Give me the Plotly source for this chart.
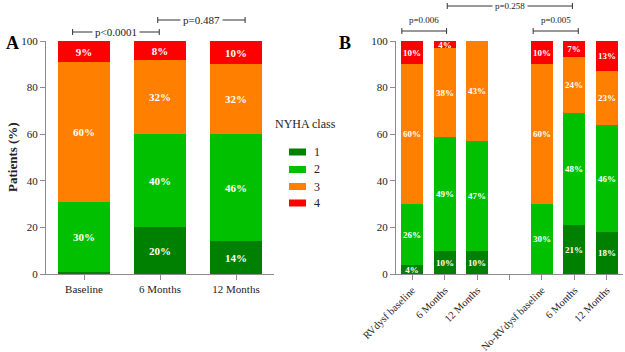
import plotly.graph_objects as go

# ---------------- data ----------------
nyha_classes = ["1", "2", "3", "4"]
class_colors = ["#008000", "#00c000", "#ff8000", "#ff0000"]

a_categories = ["Baseline", "6 Months", "12 Months"]
a_class1 = [1, 20, 14]
a_class2 = [30, 40, 46]
a_class3 = [60, 32, 30]
a_class4 = [9, 8, 10]
a_lab1 = ["", "20%", "14%"]
a_lab2 = ["30%", "40%", "46%"]
a_lab3 = ["60%", "32%", "32%"]
a_lab4 = ["9%", "8%", "10%"]

b_categories = ["RVdysf baseline", "6 Months", "12 Months", "",
                "No-RVdysf baseline", "6 Months", "12 Months"]
b_class1 = [4, 10, 10, 0, 0, 21, 18]
b_class2 = [26, 49, 47, 0, 30, 48, 46]
b_class3 = [60, 38, 43, 0, 60, 24, 23]
b_class4 = [10, 3, 0, 0, 10, 7, 13]
b_lab1 = ["4%", "10%", "10%", "", "", "21%", "18%"]
b_lab2 = ["26%", "49%", "47%", "", "30%", "48%", "46%"]
b_lab3 = ["60%", "38%", "43%", "", "60%", "24%", "23%"]
b_lab4 = ["10%", "4%", "", "", "10%", "7%", "13%"]

y_ticks = [0, 20, 40, 60, 80, 100]

# p-value brackets: (from position, to position, label)
a_brackets = [(-0.15, 0.99, "p<0.0001"), (0.97, 2.12, "p=0.487")]
b_brackets = [(-0.32, 1.06, "p=0.006"), (1.08, 4.94, "p=0.258"), (3.73, 5.12, "p=0.005")]

# ---------------- layout helpers ----------------
W, H = 625, 352
SERIF = "Liberation Serif"
AXIS_COL = "#8c8c8c"


def px_x(p):
    return p / W


def px_y(p):
    return 1 - p / H


Y0, Y1 = px_y(274), px_y(41)

fig = go.Figure()

a_vals = [a_class1, a_class2, a_class3, a_class4]
a_labs = [a_lab1, a_lab2, a_lab3, a_lab4]
b_vals = [b_class1, b_class2, b_class3, b_class4]
b_labs = [b_lab1, b_lab2, b_lab3, b_lab4]

a_x = list(range(len(a_categories)))
b_x = list(range(len(b_categories)))

for i, name in enumerate(nyha_classes):
    fig.add_trace(go.Bar(
        x=a_x, y=a_vals[i], text=a_labs[i], name=name,
        marker=dict(color=class_colors[i], line=dict(width=0)),
        width=0.68, textposition="inside", insidetextanchor="middle",
        textangle=0, constraintext="none",
        textfont=dict(family=SERIF, size=11, color="white", weight="bold"),
        showlegend=False, xaxis="x", yaxis="y"))
    fig.add_trace(go.Bar(
        x=b_x, y=b_vals[i], text=b_labs[i], name=name,
        marker=dict(color=class_colors[i], line=dict(width=0)),
        width=0.68, textposition="inside", insidetextanchor="middle",
        textangle=0, constraintext="none",
        textfont=dict(family=SERIF, size=9, color="white", weight="bold"),
        showlegend=False, xaxis="x2", yaxis="y2"))

axis_common = dict(showline=True, linecolor=AXIS_COL, linewidth=1,
                   ticks="outside", ticklen=5, tickcolor=AXIS_COL,
                   showgrid=False, zeroline=False, automargin=False)
tick_font = dict(family=SERIF, size=11, color="#222")

fig.update_layout(
    width=W, height=H,
    margin=dict(l=0, r=0, t=0, b=0, autoexpand=False),
    paper_bgcolor="white", plot_bgcolor="white",
    barmode="stack", bargap=0,
    xaxis=dict(domain=[px_x(46), px_x(274)], range=[-0.5, 2.5],
               tickvals=a_x, ticktext=a_categories, anchor="y",
               tickfont=tick_font, **axis_common),
    yaxis=dict(domain=[Y0, Y1], range=[0, 100], tickvals=y_ticks,
               anchor="x", tickfont=tick_font, **axis_common),
    xaxis2=dict(domain=[px_x(396), px_x(623)], range=[-0.5, 6.5],
                tickvals=b_x, ticktext=b_categories, tickangle=-45,
                anchor="y2", tickfont=dict(family=SERIF, size=10.5, color="#222"),
                **axis_common),
    yaxis2=dict(domain=[Y0, Y1], range=[0, 100], tickvals=y_ticks,
                anchor="x2", tickfont=tick_font, **axis_common),
)

shapes = []
annotations = []


def add_bracket(xref, x0, x1, ypx, text, size, inline):
    yp = px_y(ypx)
    cap = 3 / H
    line = dict(color="#333333", width=1)
    shapes.append(dict(type="line", xref=xref, yref="paper", x0=x0, x1=x1,
                       y0=yp, y1=yp, line=line))
    for xx in (x0, x1):
        shapes.append(dict(type="line", xref=xref, yref="paper", x0=xx, x1=xx,
                           y0=yp - cap, y1=yp + cap, line=line))
    if inline:
        annotations.append(dict(xref=xref, yref="paper", x=(x0 + x1) / 2, y=yp,
                                text=text, showarrow=False, bgcolor="white",
                                borderpad=2, xanchor="center", yanchor="middle",
                                font=dict(family=SERIF, size=size, color="#222")))
    else:
        annotations.append(dict(xref=xref, yref="paper", x=(x0 + x1) / 2,
                                y=yp + 4 / H, text=text, showarrow=False,
                                xanchor="center", yanchor="bottom",
                                font=dict(family=SERIF, size=size, color="#222")))


add_bracket("x", a_brackets[0][0], a_brackets[0][1], 32, a_brackets[0][2], 11, True)
add_bracket("x", a_brackets[1][0], a_brackets[1][1], 20, a_brackets[1][2], 11, True)
add_bracket("x2", b_brackets[0][0], b_brackets[0][1], 31, b_brackets[0][2], 9, False)
add_bracket("x2", b_brackets[1][0], b_brackets[1][1], 6, b_brackets[1][2], 9, True)
add_bracket("x2", b_brackets[2][0], b_brackets[2][1], 31, b_brackets[2][2], 9, False)

# panel letters
annotations.append(dict(xref="paper", yref="paper", x=px_x(4), y=px_y(43),
                        text="<b>A</b>", showarrow=False, xanchor="left",
                        yanchor="middle",
                        font=dict(family=SERIF, size=18, color="black")))
annotations.append(dict(xref="paper", yref="paper", x=px_x(337), y=px_y(43),
                        text="<b>B</b>", showarrow=False, xanchor="left",
                        yanchor="middle",
                        font=dict(family=SERIF, size=18, color="black")))

# y axis title
annotations.append(dict(xref="paper", yref="paper", x=px_x(12), y=px_y(157),
                        text="<b>Patients (%)</b>", showarrow=False,
                        textangle=-90, xanchor="center", yanchor="middle",
                        font=dict(family=SERIF, size=13, color="#222")))

# legend (drawn manually)
annotations.append(dict(xref="paper", yref="paper", x=px_x(273), y=px_y(124),
                        text="NYHA class", showarrow=False, xanchor="left",
                        yanchor="middle",
                        font=dict(family=SERIF, size=12, color="#222")))
leg_y = [152, 169.5, 186.5, 203]
for i, name in enumerate(nyha_classes):
    shapes.append(dict(type="rect", xref="paper", yref="paper",
                       x0=px_x(289), x1=px_x(306),
                       y0=px_y(leg_y[i] + 3.5), y1=px_y(leg_y[i] - 3.5),
                       fillcolor=class_colors[i], line=dict(width=0)))
    annotations.append(dict(xref="paper", yref="paper", x=px_x(312),
                            y=px_y(leg_y[i]), text=name, showarrow=False,
                            xanchor="left", yanchor="middle",
                            font=dict(family=SERIF, size=12, color="#222")))

fig.update_layout(shapes=shapes, annotations=annotations)

fig.write_html("out.html")
